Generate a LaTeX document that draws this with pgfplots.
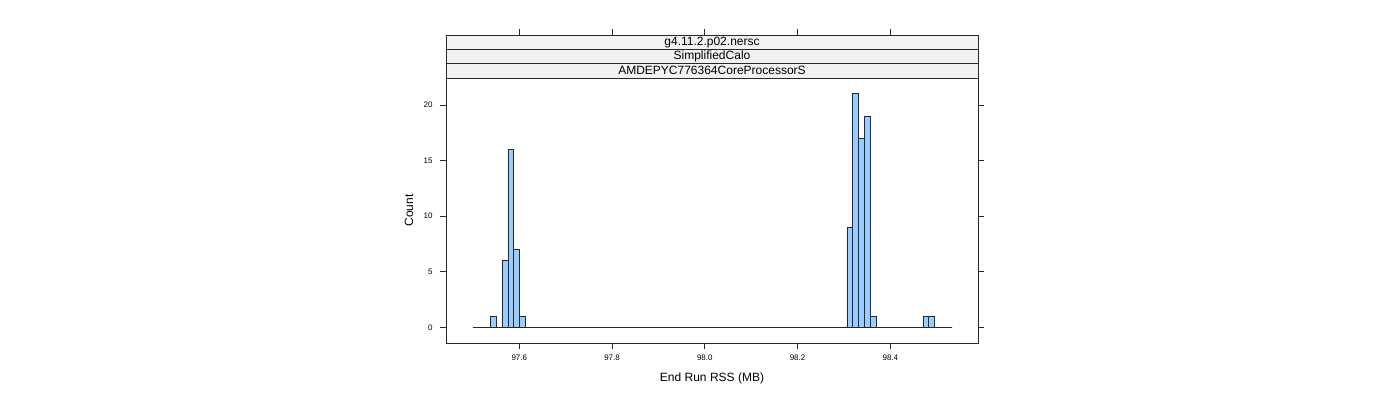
\documentclass[border=0pt]{standalone}
\usepackage{pgfplots}
\pgfplotsset{compat=1.18}
\usepackage{fontspec}
\setmainfont{Liberation Sans}
\definecolor{barfill}{RGB}{153,204,255}
\definecolor{stripfill}{RGB}{242,242,242}
\definecolor{edge}{RGB}{40,40,40}
\begin{document}
\begin{tikzpicture}
\useasboundingbox (0pt,0pt) rectangle (1400pt,400pt);
\begin{axis}[name=main, at={(446pt,57pt)}, anchor=south west, scale only axis,
  width=532pt, height=265pt,
  xmin=97.442, xmax=98.589, ymin=-1.41, ymax=22.43,
  xtick={97.6,97.8,98.0,98.2,98.4},
  xticklabels={97.6,97.8,98.0,98.2,98.4},
  ytick={0,5,10,15,20},
  xtick pos=bottom, ytick pos=both, yticklabel pos=left,
  tick align=outside, major tick length=6pt,
  tick style={edge, line width=0.8pt},
  axis line style={edge, line width=0.8pt},
  ticklabel style={font=\fontsize{8}{9}\selectfont},
  xticklabel style={yshift=-2pt},
  yticklabel style={xshift=-4pt},
  /pgf/number format/assume math mode=true,
  xlabel={End Run RSS (MB)}, ylabel={Count},
  every axis x label/.style={at={(axis description cs:0.5,-0.132)}, anchor=center, font=\fontsize{12}{14}\selectfont},
  every axis y label/.style={at={(axis description cs:-0.0695,0.5)}, anchor=center, rotate=90, font=\fontsize{12}{14}\selectfont},
  clip=false]
\addplot[ybar interval, fill=barfill, draw=edge, line width=0.8pt] coordinates {
(97.5000,0) (97.5378,1) (97.5504,0) (97.5630,6) (97.5756,16) (97.5882,7)
(97.6008,1) (97.6134,0) (98.3065,9) (98.3191,21) (98.3317,17) (98.3443,19)
(98.3569,1) (98.3695,0) (98.4703,1) (98.4829,1) (98.4955,0) (98.5333,0)
};
\pgfplotsinvokeforeach{97.6,97.8,98.0,98.2,98.4}{
  \draw[edge, line width=0.8pt] (axis cs:#1,22.43) ++(0pt,43pt) -- ++(0pt,6pt);
}
\end{axis}
\foreach \i/\t in {0/AMDEPYC776364CoreProcessorS,1/SimplifiedCalo,2/g4.11.2.p02.nersc} {
  \draw[fill=stripfill, draw=edge, line width=0.8pt] ([yshift=\i*14.33pt]main.north west) rectangle ([yshift=\i*14.33pt+14.33pt]main.north east);
  \node[font=\fontsize{12}{14}\selectfont, inner sep=0pt] at ([yshift=\i*14.33pt+7.17pt]main.north) {\t};
}
\end{tikzpicture}
\end{document}
